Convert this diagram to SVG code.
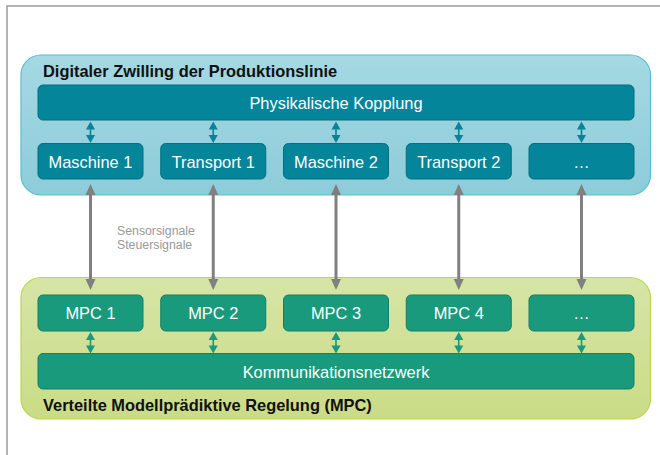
<svg xmlns="http://www.w3.org/2000/svg" width="660" height="455" viewBox="0 0 660 455">
  <defs>
    <linearGradient id="gBlue" x1="0" y1="0" x2="0" y2="1">
      <stop offset="0" stop-color="#a5d9e3"/>
      <stop offset="1" stop-color="#8dccd9"/>
    </linearGradient>
    <linearGradient id="gGreen" x1="0" y1="0" x2="0" y2="1">
      <stop offset="0" stop-color="#d6e5a6"/>
      <stop offset="1" stop-color="#cadc86"/>
    </linearGradient>
    <path id="grayArrow" d="M0,-53 L5,-42 L1.5,-42 L1.5,42 L5,42 L0,53 L-5,42 L-1.5,42 L-1.5,-42 L-5,-42 Z"/>
    <path id="smallArrow" d="M0,0 L4.5,8 L0.8,8 L0.8,13.5 L4.5,13.5 L0,21.5 L-4.5,13.5 L-0.8,13.5 L-0.8,8 L-4.5,8 Z"/>
  </defs>
  <style>
    .frame { fill: none; stroke: #9a9a9a; stroke-width: 1.5; }
    .blueC { fill: url(#gBlue); stroke: #55c2d1; stroke-width: 1.2; }
    .greenC { fill: url(#gGreen); stroke: #bcd64e; stroke-width: 1.2; }
    .tb { fill: #04859a; stroke: #036f80; stroke-width: 1; }
    .gb { fill: #1a9a7c; stroke: #147f66; stroke-width: 1; }
    .lbl { font-family: "Liberation Sans", Arial, sans-serif; font-size: 16.4px; fill: #ffffff; text-anchor: middle; }
    .title { font-family: "Liberation Sans", Arial, sans-serif; font-size: 16.4px; font-weight: bold; fill: #111111; }
    .note { font-family: "Liberation Sans", Arial, sans-serif; font-size: 12.3px; fill: #999999; }
    .gray { fill: #808080; }
    .bl { fill: #0a8297; }
    .gl { fill: #1a9a7c; }
  </style>

  <rect class="frame" x="7" y="6" width="660" height="460"/>

  <g id="digital-twin">
    <rect class="blueC" x="21" y="55" width="629.5" height="140" rx="20"/>
    <text class="title" x="43" y="76.5">Digitaler Zwilling der Produktionslinie</text>
  </g>
  <g id="mpc-container">
    <rect class="greenC" x="21" y="277.5" width="629.5" height="141.5" rx="20"/>
    <text class="title" x="43" y="410.5">Verteilte Modellprädiktive Regelung (MPC)</text>
  </g>

  <g id="connectors">
    <use href="#smallArrow" class="bl" x="90.5" y="121.5"/>
    <use href="#smallArrow" class="bl" x="213.25" y="121.5"/>
    <use href="#smallArrow" class="bl" x="336" y="121.5"/>
    <use href="#smallArrow" class="bl" x="458.75" y="121.5"/>
    <use href="#smallArrow" class="bl" x="581.5" y="121.5"/>

    <use href="#smallArrow" class="gl" x="90.5" y="332"/>
    <use href="#smallArrow" class="gl" x="213.25" y="332"/>
    <use href="#smallArrow" class="gl" x="336" y="332"/>
    <use href="#smallArrow" class="gl" x="458.75" y="332"/>
    <use href="#smallArrow" class="gl" x="581.5" y="332"/>

    <use href="#grayArrow" class="gray" x="90.5" y="237"/>
    <use href="#grayArrow" class="gray" x="213.25" y="237"/>
    <use href="#grayArrow" class="gray" x="336" y="237"/>
    <use href="#grayArrow" class="gray" x="458.75" y="237"/>
    <use href="#grayArrow" class="gray" x="581.5" y="237"/>
    <text class="note" x="117" y="235">Sensorsignale</text>
    <text class="note" x="117" y="249">Steuersignale</text>
  </g>

  <g id="physikalische-kopplung">
    <rect class="tb" x="38" y="85" width="596" height="35" rx="5"/>
    <text class="lbl" x="336" y="108.5">Physikalische Kopplung</text>
  </g>
  <g id="maschine-1">
    <rect class="tb" x="38" y="143.5" width="105" height="35.5" rx="5"/>
    <text class="lbl" x="90.5" y="167.5">Maschine 1</text>
  </g>
  <g id="transport-1">
    <rect class="tb" x="160.75" y="143.5" width="105" height="35.5" rx="5"/>
    <text class="lbl" x="213.25" y="167.5">Transport 1</text>
  </g>
  <g id="maschine-2">
    <rect class="tb" x="283.5" y="143.5" width="105" height="35.5" rx="5"/>
    <text class="lbl" x="336" y="167.5">Maschine 2</text>
  </g>
  <g id="transport-2">
    <rect class="tb" x="406.25" y="143.5" width="105" height="35.5" rx="5"/>
    <text class="lbl" x="458.75" y="167.5">Transport 2</text>
  </g>
  <g id="twin-more">
    <rect class="tb" x="529" y="143.5" width="105" height="35.5" rx="5"/>
    <text class="lbl" x="581.5" y="167.5">…</text>
  </g>

  <g id="mpc-1">
    <rect class="gb" x="38" y="295" width="105" height="36" rx="5"/>
    <text class="lbl" x="90.5" y="319">MPC 1</text>
  </g>
  <g id="mpc-2">
    <rect class="gb" x="160.75" y="295" width="105" height="36" rx="5"/>
    <text class="lbl" x="213.25" y="319">MPC 2</text>
  </g>
  <g id="mpc-3">
    <rect class="gb" x="283.5" y="295" width="105" height="36" rx="5"/>
    <text class="lbl" x="336" y="319">MPC 3</text>
  </g>
  <g id="mpc-4">
    <rect class="gb" x="406.25" y="295" width="105" height="36" rx="5"/>
    <text class="lbl" x="458.75" y="319">MPC 4</text>
  </g>
  <g id="mpc-more">
    <rect class="gb" x="529" y="295" width="105" height="36" rx="5"/>
    <text class="lbl" x="581.5" y="319">…</text>
  </g>
  <g id="kommunikationsnetzwerk">
    <rect class="gb" x="38" y="353.5" width="596" height="35.5" rx="5"/>
    <text class="lbl" x="336" y="377.5">Kommunikationsnetzwerk</text>
  </g>
</svg>
